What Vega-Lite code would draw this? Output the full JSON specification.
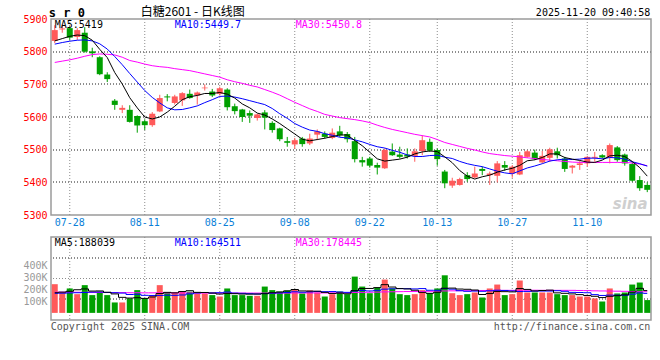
{
"$schema": "https://vega.github.io/schema/vega-lite/v6.json",
"background": "white",
"padding": {"left": 22, "top": 5, "right": 8, "bottom": 0},
"spacing": 7,
"config": {
  "view": {"stroke": "#9a9a9a", "strokeWidth": 1.5},
  "axis": {"labelFont": "DejaVu Sans Mono", "labelFontSize": 10, "ticks": false, "domain": false, "labelOverlap": false, "grid": false},
  "text": {"font": "DejaVu Sans Mono", "fontSize": 10},
  "rule": {"color": "#8c8c8c", "strokeDash": [1, 2], "strokeWidth": 1}
},
"datasets": {"k": [
{"d":"07-24","o":5833,"h":5881,"l":5826,"c":5866,"m5":5833,"m10":5823,"m30":5767,"v":242000,"vm5":170000,"vm10":165000,"vm30":175000},
{"d":"07-25","o":5868,"h":5883,"l":5858,"c":5871,"m5":5840,"m10":5828,"m30":5771,"v":172000,"vm5":175000,"vm10":166000,"vm30":175000},
{"d":"07-28","o":5872,"h":5878,"l":5836,"c":5843,"m5":5847,"m10":5832,"m30":5775,"v":206000,"vm5":182000,"vm10":168000,"vm30":174000},
{"d":"07-29","o":5845,"h":5872,"l":5836,"c":5866,"m5":5851,"m10":5835,"m30":5780,"v":158000,"vm5":195000,"vm10":170000,"vm30":174000},
{"d":"07-30","o":5858,"h":5875,"l":5797,"c":5800,"m5":5849,"m10":5836,"m30":5786,"v":234000,"vm5":202000,"vm10":172000,"vm30":173000},
{"d":"07-31","o":5801,"h":5812,"l":5783,"c":5795,"m5":5835,"m10":5833,"m30":5791,"v":150000,"vm5":184000,"vm10":175000,"vm30":173000},
{"d":"08-01","o":5783,"h":5786,"l":5728,"c":5731,"m5":5807,"m10":5824,"m30":5793,"v":178000,"vm5":185000,"vm10":176000,"vm30":172000},
{"d":"08-04","o":5730,"h":5737,"l":5707,"c":5716,"m5":5782,"m10":5808,"m30":5792,"v":150000,"vm5":174000,"vm10":172000,"vm30":172000},
{"d":"08-05","o":5650,"h":5655,"l":5622,"c":5637,"m5":5736,"m10":5785,"m30":5790,"v":88000,"vm5":160000,"vm10":170000,"vm30":171000},
{"d":"08-06","o":5622,"h":5636,"l":5612,"c":5628,"m5":5701,"m10":5760,"m30":5783,"v":88000,"vm5":131000,"vm10":167000,"vm30":171000},
{"d":"08-07","o":5622,"h":5636,"l":5583,"c":5585,"m5":5659,"m10":5733,"m30":5773,"v":122000,"vm5":125000,"vm10":155000,"vm30":170000},
{"d":"08-08","o":5603,"h":5605,"l":5552,"c":5574,"m5":5628,"m10":5707,"m30":5768,"v":192000,"vm5":128000,"vm10":157000,"vm30":170000},
{"d":"08-11","o":5587,"h":5593,"l":5560,"c":5575,"m5":5600,"m10":5681,"m30":5762,"v":122000,"vm5":122000,"vm10":148000,"vm30":169000},
{"d":"08-12","o":5575,"h":5615,"l":5570,"c":5610,"m5":5594,"m10":5660,"m30":5757,"v":144000,"vm5":134000,"vm10":147000,"vm30":169000},
{"d":"08-13","o":5617,"h":5668,"l":5615,"c":5658,"m5":5600,"m10":5643,"m30":5754,"v":234000,"vm5":163000,"vm10":147000,"vm30":169000},
{"d":"08-14","o":5663,"h":5670,"l":5648,"c":5660,"m5":5615,"m10":5628,"m30":5752,"v":172000,"vm5":173000,"vm10":149000,"vm30":168000},
{"d":"08-15","o":5643,"h":5668,"l":5638,"c":5663,"m5":5633,"m10":5622,"m30":5748,"v":172000,"vm5":169000,"vm10":148000,"vm30":168000},
{"d":"08-18","o":5651,"h":5676,"l":5634,"c":5673,"m5":5653,"m10":5623,"m30":5745,"v":180000,"vm5":180000,"vm10":151000,"vm30":168000},
{"d":"08-19","o":5671,"h":5684,"l":5656,"c":5658,"m5":5662,"m10":5628,"m30":5742,"v":178000,"vm5":187000,"vm10":160000,"vm30":168000},
{"d":"08-20","o":5666,"h":5678,"l":5638,"c":5675,"m5":5666,"m10":5634,"m30":5737,"v":164000,"vm5":173000,"vm10":168000,"vm30":167000},
{"d":"08-21","o":5688,"h":5700,"l":5681,"c":5690,"m5":5672,"m10":5644,"m30":5732,"v":164000,"vm5":172000,"vm10":172000,"vm30":167000},
{"d":"08-22","o":5678,"h":5686,"l":5661,"c":5666,"m5":5672,"m10":5653,"m30":5727,"v":150000,"vm5":167000,"vm10":168000,"vm30":167000},
{"d":"08-25","o":5671,"h":5693,"l":5666,"c":5688,"m5":5675,"m10":5663,"m30":5722,"v":138000,"vm5":159000,"vm10":170000,"vm30":167000},
{"d":"08-26","o":5684,"h":5688,"l":5620,"c":5630,"m5":5670,"m10":5664,"m30":5714,"v":206000,"vm5":164000,"vm10":176000,"vm30":167000},
{"d":"08-27","o":5633,"h":5641,"l":5608,"c":5618,"m5":5658,"m10":5661,"m30":5708,"v":150000,"vm5":162000,"vm10":167000,"vm30":167000},
{"d":"08-28","o":5623,"h":5625,"l":5585,"c":5600,"m5":5640,"m10":5656,"m30":5703,"v":150000,"vm5":159000,"vm10":165000,"vm30":167000},
{"d":"08-29","o":5612,"h":5620,"l":5582,"c":5604,"m5":5628,"m10":5650,"m30":5697,"v":144000,"vm5":158000,"vm10":162000,"vm30":167000},
{"d":"09-01","o":5597,"h":5610,"l":5589,"c":5608,"m5":5612,"m10":5644,"m30":5692,"v":144000,"vm5":159000,"vm10":159000,"vm30":167000},
{"d":"09-02","o":5614,"h":5621,"l":5562,"c":5598,"m5":5606,"m10":5638,"m30":5684,"v":222000,"vm5":162000,"vm10":163000,"vm30":167000},
{"d":"09-03","o":5582,"h":5587,"l":5552,"c":5560,"m5":5594,"m10":5626,"m30":5676,"v":192000,"vm5":170000,"vm10":166000,"vm30":167000},
{"d":"09-04","o":5565,"h":5567,"l":5526,"c":5532,"m5":5580,"m10":5610,"m30":5667,"v":180000,"vm5":176000,"vm10":168000,"vm30":167000},
{"d":"09-05","o":5526,"h":5539,"l":5509,"c":5521,"m5":5564,"m10":5596,"m30":5656,"v":189000,"vm5":185000,"vm10":172000,"vm30":167000},
{"d":"09-08","o":5516,"h":5536,"l":5502,"c":5529,"m5":5548,"m10":5580,"m30":5645,"v":200000,"vm5":197000,"vm10":178000,"vm30":168000},
{"d":"09-09","o":5534,"h":5539,"l":5509,"c":5517,"m5":5532,"m10":5569,"m30":5635,"v":164000,"vm5":185000,"vm10":174000,"vm30":168000},
{"d":"09-10","o":5519,"h":5549,"l":5514,"c":5534,"m5":5527,"m10":5560,"m30":5625,"v":189000,"vm5":184000,"vm10":177000,"vm30":168000},
{"d":"09-11","o":5546,"h":5562,"l":5529,"c":5556,"m5":5531,"m10":5556,"m30":5617,"v":172000,"vm5":183000,"vm10":180000,"vm30":168000},
{"d":"09-12","o":5549,"h":5556,"l":5534,"c":5539,"m5":5535,"m10":5549,"m30":5608,"v":138000,"vm5":173000,"vm10":179000,"vm30":168000},
{"d":"09-15","o":5536,"h":5565,"l":5532,"c":5552,"m5":5540,"m10":5544,"m30":5603,"v":158000,"vm5":164000,"vm10":180000,"vm30":169000},
{"d":"09-16","o":5556,"h":5573,"l":5539,"c":5544,"m5":5545,"m10":5538,"m30":5598,"v":180000,"vm5":167000,"vm10":176000,"vm30":169000},
{"d":"09-17","o":5548,"h":5554,"l":5522,"c":5532,"m5":5545,"m10":5536,"m30":5595,"v":158000,"vm5":161000,"vm10":173000,"vm30":169000},
{"d":"09-18","o":5526,"h":5539,"l":5461,"c":5471,"m5":5528,"m10":5530,"m30":5592,"v":306000,"vm5":188000,"vm10":185000,"vm30":172000},
{"d":"09-19","o":5468,"h":5478,"l":5448,"c":5461,"m5":5512,"m10":5524,"m30":5588,"v":222000,"vm5":205000,"vm10":189000,"vm30":173000},
{"d":"09-22","o":5473,"h":5478,"l":5445,"c":5451,"m5":5492,"m10":5516,"m30":5583,"v":166000,"vm5":206000,"vm10":185000,"vm30":174000},
{"d":"09-23","o":5453,"h":5460,"l":5424,"c":5445,"m5":5472,"m10":5509,"m30":5575,"v":214000,"vm5":213000,"vm10":190000,"vm30":175000},
{"d":"09-24","o":5443,"h":5504,"l":5441,"c":5499,"m5":5465,"m10":5505,"m30":5568,"v":281000,"vm5":238000,"vm10":200000,"vm30":177000},
{"d":"09-25","o":5494,"h":5519,"l":5481,"c":5483,"m5":5468,"m10":5498,"m30":5562,"v":206000,"vm5":218000,"vm10":203000,"vm30":178000},
{"d":"09-26","o":5485,"h":5509,"l":5473,"c":5478,"m5":5471,"m10":5492,"m30":5557,"v":158000,"vm5":205000,"vm10":205000,"vm30":179000},
{"d":"09-29","o":5485,"h":5504,"l":5473,"c":5479,"m5":5477,"m10":5484,"m30":5552,"v":150000,"vm5":202000,"vm10":204000,"vm30":180000},
{"d":"09-30","o":5481,"h":5504,"l":5463,"c":5495,"m5":5487,"m10":5479,"m30":5547,"v":158000,"vm5":191000,"vm10":202000,"vm30":180000},
{"d":"10-09","o":5496,"h":5544,"l":5483,"c":5529,"m5":5493,"m10":5479,"m30":5543,"v":192000,"vm5":173000,"vm10":205000,"vm30":181000},
{"d":"10-10","o":5524,"h":5534,"l":5493,"c":5497,"m5":5496,"m10":5482,"m30":5539,"v":166000,"vm5":165000,"vm10":191000,"vm30":182000},
{"d":"10-13","o":5499,"h":5504,"l":5451,"c":5471,"m5":5494,"m10":5483,"m30":5531,"v":206000,"vm5":174000,"vm10":190000,"vm30":183000},
{"d":"10-14","o":5433,"h":5438,"l":5382,"c":5397,"m5":5478,"m10":5477,"m30":5522,"v":317000,"vm5":208000,"vm10":205000,"vm30":185000},
{"d":"10-15","o":5390,"h":5414,"l":5383,"c":5405,"m5":5460,"m10":5473,"m30":5516,"v":166000,"vm5":209000,"vm10":200000,"vm30":186000},
{"d":"10-16","o":5392,"h":5414,"l":5390,"c":5410,"m5":5436,"m10":5464,"m30":5510,"v":150000,"vm5":201000,"vm10":187000,"vm30":187000},
{"d":"10-17","o":5422,"h":5431,"l":5402,"c":5410,"m5":5419,"m10":5457,"m30":5504,"v":158000,"vm5":199000,"vm10":182000,"vm30":187000},
{"d":"10-20","o":5415,"h":5448,"l":5412,"c":5427,"m5":5410,"m10":5452,"m30":5499,"v":172000,"vm5":193000,"vm10":184000,"vm30":188000},
{"d":"10-21","o":5441,"h":5448,"l":5422,"c":5435,"m5":5417,"m10":5448,"m30":5493,"v":130000,"vm5":155000,"vm10":182000,"vm30":189000},
{"d":"10-22","o":5422,"h":5433,"l":5392,"c":5427,"m5":5422,"m10":5441,"m30":5488,"v":206000,"vm5":163000,"vm10":186000,"vm30":189000},
{"d":"10-23","o":5420,"h":5465,"l":5400,"c":5458,"m5":5431,"m10":5434,"m30":5485,"v":239000,"vm5":181000,"vm10":191000,"vm30":190000},
{"d":"10-24","o":5453,"h":5465,"l":5435,"c":5445,"m5":5438,"m10":5429,"m30":5482,"v":150000,"vm5":179000,"vm10":189000,"vm30":190000},
{"d":"10-27","o":5427,"h":5453,"l":5414,"c":5448,"m5":5443,"m10":5426,"m30":5480,"v":158000,"vm5":177000,"vm10":185000,"vm30":190000},
{"d":"10-28","o":5424,"h":5493,"l":5422,"c":5483,"m5":5452,"m10":5435,"m30":5478,"v":273000,"vm5":205000,"vm10":180000,"vm30":191000},
{"d":"10-29","o":5478,"h":5499,"l":5475,"c":5495,"m5":5466,"m10":5444,"m30":5475,"v":172000,"vm5":198000,"vm10":181000,"vm30":191000},
{"d":"10-30","o":5491,"h":5500,"l":5468,"c":5473,"m5":5469,"m10":5450,"m30":5473,"v":172000,"vm5":185000,"vm10":183000,"vm30":191000},
{"d":"10-31","o":5461,"h":5496,"l":5458,"c":5481,"m5":5476,"m10":5457,"m30":5470,"v":172000,"vm5":189000,"vm10":184000,"vm30":190000},
{"d":"11-03","o":5475,"h":5506,"l":5463,"c":5501,"m5":5487,"m10":5465,"m30":5468,"v":172000,"vm5":192000,"vm10":184000,"vm30":190000},
{"d":"11-04","o":5495,"h":5506,"l":5473,"c":5483,"m5":5487,"m10":5469,"m30":5466,"v":158000,"vm5":169000,"vm10":187000,"vm30":190000},
{"d":"11-05","o":5473,"h":5478,"l":5432,"c":5441,"m5":5476,"m10":5471,"m30":5464,"v":150000,"vm5":165000,"vm10":182000,"vm30":190000},
{"d":"11-06","o":5445,"h":5453,"l":5427,"c":5451,"m5":5471,"m10":5470,"m30":5462,"v":150000,"vm5":160000,"vm10":173000,"vm30":190000},
{"d":"11-07","o":5453,"h":5465,"l":5438,"c":5458,"m5":5467,"m10":5471,"m30":5461,"v":138000,"vm5":154000,"vm10":172000,"vm30":189000},
{"d":"11-10","o":5458,"h":5481,"l":5448,"c":5478,"m5":5462,"m10":5474,"m30":5461,"v":138000,"vm5":147000,"vm10":170000,"vm30":188000},
{"d":"11-11","o":5475,"h":5493,"l":5463,"c":5478,"m5":5461,"m10":5474,"m30":5461,"v":122000,"vm5":140000,"vm10":154000,"vm30":186000},
{"d":"11-12","o":5483,"h":5486,"l":5473,"c":5476,"m5":5468,"m10":5472,"m30":5461,"v":96000,"vm5":129000,"vm10":147000,"vm30":185000},
{"d":"11-13","o":5475,"h":5519,"l":5458,"c":5514,"m5":5481,"m10":5476,"m30":5461,"v":206000,"vm5":140000,"vm10":150000,"vm30":184000},
{"d":"11-14","o":5507,"h":5511,"l":5463,"c":5468,"m5":5483,"m10":5475,"m30":5461,"v":164000,"vm5":145000,"vm10":149000,"vm30":183000},
{"d":"11-17","o":5485,"h":5488,"l":5451,"c":5458,"m5":5479,"m10":5471,"m30":5461,"v":172000,"vm5":152000,"vm10":149000,"vm30":182000},
{"d":"11-18","o":5456,"h":5463,"l":5402,"c":5405,"m5":5464,"m10":5463,"m30":5459,"v":239000,"vm5":175000,"vm10":158000,"vm30":180000},
{"d":"11-19","o":5407,"h":5419,"l":5374,"c":5382,"m5":5445,"m10":5457,"m30":5456,"v":256000,"vm5":207000,"vm10":168000,"vm30":178000},
{"d":"11-20","o":5392,"h":5400,"l":5370,"c":5377,"m5":5419,"m10":5449.7,"m30":5450.8,"v":108000,"vm5":188039,"vm10":164511,"vm30":178445}
]},
"vconcat": [
{
  "width": 600, "height": 196,
  "data": {"name": "k"},
  "layer": [
    {"transform": [{"filter": {"field": "d", "oneOf": ["07-28","08-11","08-25","09-08","09-22","10-13","10-27","11-10"]}}],
     "mark": {"type": "rule"},
     "encoding": {"x": {"field": "d", "type": "ordinal", "title": null, "scale": {"paddingInner": 0.2, "paddingOuter": 0.1},
        "axis": {"values": ["07-28","08-11","08-25","09-08","09-22","10-13","10-27","11-10"], "labelAngle": 0, "labelColor": "#0a7fd8", "labelPadding": 2}}}},
    {"mark": {"type": "rule"}, "encoding": {"y": {"datum": 5400, "type": "quantitative", "title": null, "axis": {"values": [5300,5400,5500,5600,5700,5800,5900], "format": "d", "labelColor": "#ff0000", "labelPadding": 4}}}},
    {"mark": {"type": "rule"}, "encoding": {"y": {"datum": 5500, "type": "quantitative", "title": null, "axis": {"values": [5300,5400,5500,5600,5700,5800,5900], "format": "d", "labelColor": "#ff0000", "labelPadding": 4}}}},
    {"mark": {"type": "rule"}, "encoding": {"y": {"datum": 5600, "type": "quantitative", "title": null, "axis": {"values": [5300,5400,5500,5600,5700,5800,5900], "format": "d", "labelColor": "#ff0000", "labelPadding": 4}}}},
    {"mark": {"type": "rule"}, "encoding": {"y": {"datum": 5700, "type": "quantitative", "title": null, "axis": {"values": [5300,5400,5500,5600,5700,5800,5900], "format": "d", "labelColor": "#ff0000", "labelPadding": 4}}}},
    {"mark": {"type": "rule"}, "encoding": {"y": {"datum": 5800, "type": "quantitative", "title": null, "axis": {"values": [5300,5400,5500,5600,5700,5800,5900], "format": "d", "labelColor": "#ff0000", "labelPadding": 4}}}},
    {"mark": {"type": "rule", "strokeDash": [], "strokeWidth": 1},
     "encoding": {
       "x": {"field": "d", "type": "ordinal", "title": null, "scale": {"paddingInner": 0.2, "paddingOuter": 0.1},
        "axis": {"values": ["07-28","08-11","08-25","09-08","09-22","10-13","10-27","11-10"], "labelAngle": 0, "labelColor": "#0a7fd8", "labelPadding": 2}},
       "y": {"field": "l", "type": "quantitative", "title": null, "scale": {"domain": [5300, 5900], "nice": false, "zero": false},
             "axis": {"values": [5300,5400,5500,5600,5700,5800,5900], "format": "d", "labelColor": "#ff0000", "labelPadding": 4}},
       "y2": {"field": "h"},
       "color": {"condition": {"test": "datum.c >= datum.o", "value": "#ff5a5a"}, "value": "#00a000"}}},
    {"mark": {"type": "bar"},
     "encoding": {
       "x": {"field": "d", "type": "ordinal", "title": null, "scale": {"paddingInner": 0.2, "paddingOuter": 0.1},
        "axis": {"values": ["07-28","08-11","08-25","09-08","09-22","10-13","10-27","11-10"], "labelAngle": 0, "labelColor": "#0a7fd8", "labelPadding": 2}},
       "y": {"field": "o", "type": "quantitative", "title": null, "axis": {"values": [5300,5400,5500,5600,5700,5800,5900], "format": "d", "labelColor": "#ff0000", "labelPadding": 4}},
       "y2": {"field": "c"},
       "color": {"condition": {"test": "datum.c >= datum.o", "value": "#ff5a5a"}, "value": "#00a000"}}},
    {"mark": {"type": "line", "color": "#ff00ff", "strokeWidth": 1},
     "encoding": {"x": {"field": "d", "type": "ordinal", "title": null, "scale": {"paddingInner": 0.2, "paddingOuter": 0.1},
        "axis": {"values": ["07-28","08-11","08-25","09-08","09-22","10-13","10-27","11-10"], "labelAngle": 0, "labelColor": "#0a7fd8", "labelPadding": 2}},
       "y": {"field": "m30", "type": "quantitative", "title": null, "axis": {"values": [5300,5400,5500,5600,5700,5800,5900], "format": "d", "labelColor": "#ff0000", "labelPadding": 4}}}},
    {"mark": {"type": "line", "color": "#0000ff", "strokeWidth": 1},
     "encoding": {"x": {"field": "d", "type": "ordinal", "title": null, "scale": {"paddingInner": 0.2, "paddingOuter": 0.1},
        "axis": {"values": ["07-28","08-11","08-25","09-08","09-22","10-13","10-27","11-10"], "labelAngle": 0, "labelColor": "#0a7fd8", "labelPadding": 2}},
       "y": {"field": "m10", "type": "quantitative", "title": null, "axis": {"values": [5300,5400,5500,5600,5700,5800,5900], "format": "d", "labelColor": "#ff0000", "labelPadding": 4}}}},
    {"mark": {"type": "line", "color": "#000000", "strokeWidth": 1},
     "encoding": {"x": {"field": "d", "type": "ordinal", "title": null, "scale": {"paddingInner": 0.2, "paddingOuter": 0.1},
        "axis": {"values": ["07-28","08-11","08-25","09-08","09-22","10-13","10-27","11-10"], "labelAngle": 0, "labelColor": "#0a7fd8", "labelPadding": 2}},
       "y": {"field": "m5", "type": "quantitative", "title": null, "axis": {"values": [5300,5400,5500,5600,5700,5800,5900], "format": "d", "labelColor": "#ff0000", "labelPadding": 4}}}},
    {"transform": [{"filter": "datum.d == '07-24'"}],
     "mark": {"type": "text", "align": "left", "baseline": "top", "dy": 1, "color": "#000000"},
     "encoding": {"x": {"field": "d", "type": "ordinal", "title": null, "axis": {"values": ["07-28","08-11","08-25","09-08","09-22","10-13","10-27","11-10"], "labelAngle": 0, "labelColor": "#0a7fd8", "labelPadding": 2}},
       "y": {"datum": 5900, "type": "quantitative", "title": null, "axis": {"values": [5300,5400,5500,5600,5700,5800,5900], "format": "d", "labelColor": "#ff0000", "labelPadding": 4}}, "text": {"value": "MA5:5419"}}},
    {"transform": [{"filter": "datum.d == '08-15'"}],
     "mark": {"type": "text", "align": "left", "baseline": "top", "dy": 1, "color": "#0000ff"},
     "encoding": {"x": {"field": "d", "type": "ordinal", "title": null, "axis": {"values": ["07-28","08-11","08-25","09-08","09-22","10-13","10-27","11-10"], "labelAngle": 0, "labelColor": "#0a7fd8", "labelPadding": 2}},
       "y": {"datum": 5900, "type": "quantitative", "title": null, "axis": {"values": [5300,5400,5500,5600,5700,5800,5900], "format": "d", "labelColor": "#ff0000", "labelPadding": 4}}, "text": {"value": "MA10:5449.7"}}},
    {"transform": [{"filter": "datum.d == '09-08'"}],
     "mark": {"type": "text", "align": "left", "baseline": "top", "dy": 1, "dx": 1, "color": "#ff00ff"},
     "encoding": {"x": {"field": "d", "type": "ordinal", "title": null, "axis": {"values": ["07-28","08-11","08-25","09-08","09-22","10-13","10-27","11-10"], "labelAngle": 0, "labelColor": "#0a7fd8", "labelPadding": 2}},
       "y": {"datum": 5900, "type": "quantitative", "title": null, "axis": {"values": [5300,5400,5500,5600,5700,5800,5900], "format": "d", "labelColor": "#ff0000", "labelPadding": 4}}, "text": {"value": "MA30:5450.8"}}},
    {"transform": [{"filter": "datum.d == '07-24'"}],
     "mark": {"type": "text", "align": "left", "baseline": "alphabetic", "dy": -2, "dx": -6, "fontSize": 12, "fontWeight": "bold", "color": "#000000"},
     "encoding": {"x": {"field": "d", "type": "ordinal", "title": null, "axis": {"values": ["07-28","08-11","08-25","09-08","09-22","10-13","10-27","11-10"], "labelAngle": 0, "labelColor": "#0a7fd8", "labelPadding": 2}},
       "y": {"datum": 5900, "type": "quantitative", "title": null, "axis": {"values": [5300,5400,5500,5600,5700,5800,5900], "format": "d", "labelColor": "#ff0000", "labelPadding": 4}}, "text": {"value": "s r 0"}}},
    {"transform": [{"filter": "datum.d == '08-11'"}],
     "mark": {"type": "text", "align": "left", "baseline": "alphabetic", "dy": -3, "dx": -4, "fontSize": 12, "font": "Noto Sans CJK SC", "color": "#000000"},
     "encoding": {"x": {"field": "d", "type": "ordinal", "title": null, "axis": {"values": ["07-28","08-11","08-25","09-08","09-22","10-13","10-27","11-10"], "labelAngle": 0, "labelColor": "#0a7fd8", "labelPadding": 2}},
       "y": {"datum": 5900, "type": "quantitative", "title": null, "axis": {"values": [5300,5400,5500,5600,5700,5800,5900], "format": "d", "labelColor": "#ff0000", "labelPadding": 4}}, "text": {"value": "白糖2601 - 日K线图"}}},
    {"transform": [{"filter": "datum.d == '11-20'"}],
     "mark": {"type": "text", "align": "right", "baseline": "alphabetic", "dy": -3, "dx": 3, "color": "#000000"},
     "encoding": {"x": {"field": "d", "type": "ordinal", "title": null, "axis": {"values": ["07-28","08-11","08-25","09-08","09-22","10-13","10-27","11-10"], "labelAngle": 0, "labelColor": "#0a7fd8", "labelPadding": 2}},
       "y": {"datum": 5900, "type": "quantitative", "title": null, "axis": {"values": [5300,5400,5500,5600,5700,5800,5900], "format": "d", "labelColor": "#ff0000", "labelPadding": 4}}, "text": {"value": "2025-11-20 09:40:58"}}},
    {"transform": [{"filter": "datum.d == '11-13'"}],
     "mark": {"type": "text", "align": "left", "baseline": "middle", "dx": 3, "fontSize": 15, "fontStyle": "italic", "fontWeight": "bold", "font": "DejaVu Sans", "color": "#cfcfcf"},
     "encoding": {"x": {"field": "d", "type": "ordinal", "title": null, "axis": {"values": ["07-28","08-11","08-25","09-08","09-22","10-13","10-27","11-10"], "labelAngle": 0, "labelColor": "#0a7fd8", "labelPadding": 2}},
       "y": {"datum": 5335, "type": "quantitative", "title": null, "axis": {"values": [5300,5400,5500,5600,5700,5800,5900], "format": "d", "labelColor": "#ff0000", "labelPadding": 4}}, "text": {"value": "sina"}}}
  ]
},
{
  "width": 600, "height": 83,
  "data": {"name": "k"},
  "resolve": {"axis": {"y": "independent"}},
  "layer": [
    {"transform": [{"filter": {"field": "d", "oneOf": ["07-28","08-11","08-25","09-08","09-22","10-13","10-27","11-10"]}}],
     "mark": {"type": "rule"},
     "encoding": {"x": {"field": "d", "type": "ordinal", "title": null, "scale": {"paddingInner": 0.2, "paddingOuter": 0.1}, "axis": null}}},
    {"mark": {"type": "rule"}, "encoding": {"y": {"datum": 115000, "type": "quantitative", "axis": null}}},
    {"mark": {"type": "rule"}, "encoding": {"y": {"datum": 290000, "type": "quantitative", "axis": null}}},
    {"mark": {"type": "rule"}, "encoding": {"y": {"datum": 465000, "type": "quantitative", "axis": null}}},
    {"mark": {"type": "bar"},
     "encoding": {
       "x": {"field": "d", "type": "ordinal", "title": null, "scale": {"paddingInner": 0.2, "paddingOuter": 0.1}, "axis": null},
       "y": {"field": "v", "type": "quantitative", "title": null, "scale": {"domain": [-60000, 640000], "nice": false, "zero": false},
             "axis": {"values": [100000, 200000, 300000, 400000], "labelExpr": "(datum.value / 1000) + 'K'", "labelColor": "#999999", "labelPadding": 4}},
       "y2": {"datum": 0},
       "color": {"condition": {"test": "datum.c >= datum.o", "value": "#ff5a5a"}, "value": "#00a000"}}},
    {"mark": {"type": "line", "interpolate": "step", "color": "#ff00ff", "strokeWidth": 1},
     "encoding": {"x": {"field": "d", "type": "ordinal", "title": null, "axis": null}, "y": {"field": "vm30", "type": "quantitative", "title": null, "axis": null}}},
    {"mark": {"type": "line", "interpolate": "step", "color": "#0000ff", "strokeWidth": 1},
     "encoding": {"x": {"field": "d", "type": "ordinal", "title": null, "axis": null}, "y": {"field": "vm10", "type": "quantitative", "title": null, "axis": null}}},
    {"mark": {"type": "line", "interpolate": "step", "color": "#000000", "strokeWidth": 1},
     "encoding": {"x": {"field": "d", "type": "ordinal", "title": null, "axis": null}, "y": {"field": "vm5", "type": "quantitative", "title": null, "axis": null}}},
    {"transform": [{"filter": "datum.d == '07-24'"}],
     "mark": {"type": "text", "align": "left", "baseline": "top", "dy": 1, "color": "#000000"},
     "encoding": {"x": {"field": "d", "type": "ordinal", "axis": null}, "y": {"datum": 640000, "type": "quantitative", "axis": null}, "text": {"value": "MA5:188039"}}},
    {"transform": [{"filter": "datum.d == '08-15'"}],
     "mark": {"type": "text", "align": "left", "baseline": "top", "dy": 1, "color": "#0000ff"},
     "encoding": {"x": {"field": "d", "type": "ordinal", "axis": null}, "y": {"datum": 640000, "type": "quantitative", "axis": null}, "text": {"value": "MA10:164511"}}},
    {"transform": [{"filter": "datum.d == '09-08'"}],
     "mark": {"type": "text", "align": "left", "baseline": "top", "dy": 1, "dx": 1, "color": "#ff00ff"},
     "encoding": {"x": {"field": "d", "type": "ordinal", "axis": null}, "y": {"datum": 640000, "type": "quantitative", "axis": null}, "text": {"value": "MA30:178445"}}},
    {"transform": [{"filter": "datum.d == '07-24'"}],
     "mark": {"type": "text", "align": "left", "baseline": "top", "dy": 2, "dx": -4, "color": "#555555"},
     "encoding": {"x": {"field": "d", "type": "ordinal", "axis": null}, "y": {"datum": -60000, "type": "quantitative", "axis": null}, "text": {"value": "Copyright 2025 SINA.COM"}}},
    {"transform": [{"filter": "datum.d == '11-20'"}],
     "mark": {"type": "text", "align": "right", "baseline": "top", "dy": 2, "dx": 3, "color": "#555555"},
     "encoding": {"x": {"field": "d", "type": "ordinal", "axis": null}, "y": {"datum": -60000, "type": "quantitative", "axis": null}, "text": {"value": "http://finance.sina.com.cn"}}}
  ]
}
]
}
